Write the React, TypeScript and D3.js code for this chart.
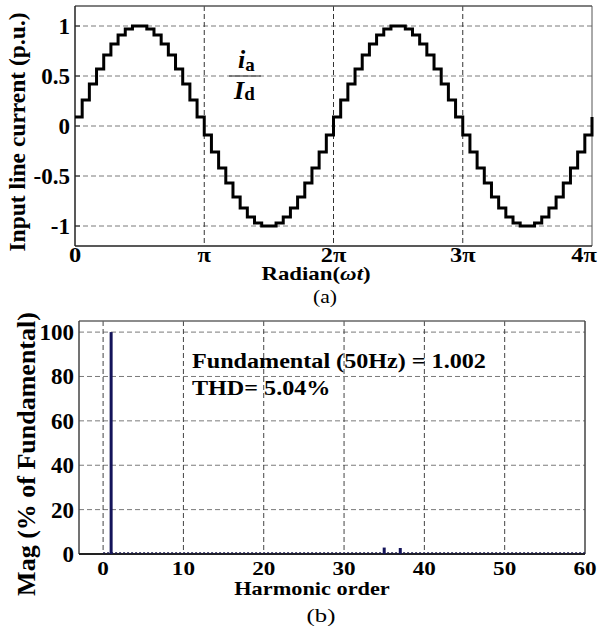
import React from "react";
import * as d3 from "d3";

// ---- Data ----
// Staircase input line current, 72 steps over 0..4π (10° per step)
const currentSteps: number[] = [
  0.09, 0.26, 0.42, 0.57, 0.71, 0.82, 0.91, 0.97, 1.0, 1.0, 0.97, 0.91, 0.82, 0.71, 0.57, 0.42, 0.26, 0.09,
  -0.09, -0.26, -0.42, -0.57, -0.71, -0.82, -0.91, -0.97, -1.0, -1.0, -0.97, -0.91, -0.82, -0.71, -0.57, -0.42, -0.26, -0.09,
  0.09, 0.26, 0.42, 0.57, 0.71, 0.82, 0.91, 0.97, 1.0, 1.0, 0.97, 0.91, 0.82, 0.71, 0.57, 0.42, 0.26, 0.09,
  -0.09, -0.26, -0.42, -0.57, -0.71, -0.82, -0.91, -0.97, -1.0, -1.0, -0.97, -0.91, -0.82, -0.71, -0.57, -0.42, -0.26, -0.09,
];
const endValue = 0.09;
const topYTicks = [1, 0.5, 0, -0.5, -1];
const topYTickLabels = ["1", "0.5", "0", "-0.5", "-1"];
const topXTicksPi = [0, 1, 2, 3, 4];
const topXTickLabels = ["0", "π", "2π", "3π", "4π"];

// Harmonic spectrum
const harmonicOrders = [1, 35, 37];
const harmonicMags = [100, 2.9, 2.7];
const bottomYTicks = [0, 20, 40, 60, 80, 100];
const bottomXTicks = [0, 10, 20, 30, 40, 50, 60];
const fundamentalText = "Fundamental (50Hz) = 1.002";
const thdText = "THD= 5.04%";

const FONT = "'Liberation Serif', 'Times New Roman', serif";

type TP = { x: number; y: number; sx?: number; size: number; bold?: boolean; anchor?: string; children: React.ReactNode };
function T({ x, y, sx = 1.22, size, bold = true, anchor = "start", children }: TP) {
  return (
    <text transform={`translate(${x},${y}) scale(${sx},1)`} fontSize={size} fontWeight={bold ? "bold" : "normal"} textAnchor={anchor}>
      {children}
    </text>
  );
}

export default function App() {
  const W = 598, H = 632;
  // top chart
  const xA = d3.scaleLinear().domain([0, 4 * Math.PI]).range([75, 592]);
  const yA = d3.scaleLinear().domain([-1.2, 1.2]).range([246, 6]);
  const stepW = (4 * Math.PI) / currentSteps.length;
  const pts: [number, number][] = currentSteps.map((v, i) => [i * stepW, v]);
  pts.push([4 * Math.PI, endValue]);
  const line = d3.line<[number, number]>().x(d => xA(d[0])).y(d => yA(d[1])).curve(d3.curveStepAfter);

  // bottom chart
  const xB = d3.scaleLinear().domain([-3, 60]).range([79, 585]);
  const yB = d3.scaleLinear().domain([0, 105]).range([554, 321]);

  const grid = "#7a7a7a";
  return (
    <svg width={W} height={H} style={{ position: "absolute", left: 0, top: 0, background: "#fff" }} fontFamily={FONT}>
      {/* ---------- Top chart ---------- */}
      {topYTicks.map(t => (
        <line key={"gy" + t} x1={xA(0)} x2={xA(4 * Math.PI)} y1={yA(t)} y2={yA(t)} stroke={grid} strokeWidth={1} strokeDasharray="5,3" />
      ))}
      {topXTicksPi.slice(1, 4).map(t => (
        <line key={"gx" + t} x1={xA(t * Math.PI)} x2={xA(t * Math.PI)} y1={yA(1.2)} y2={yA(-1.2)} stroke="#333" strokeWidth={1} strokeDasharray="5,3" />
      ))}
      <line x1={xA(0)} x2={xA(4 * Math.PI)} y1={yA(1.2)} y2={yA(1.2)} stroke="#555" strokeWidth={1.5} />
      <line x1={xA(4 * Math.PI)} x2={xA(4 * Math.PI)} y1={yA(1.2)} y2={yA(-1.2)} stroke="#555" strokeWidth={1} />
      <line x1={xA(0)} x2={xA(0)} y1={yA(1.2)} y2={yA(-1.2)} stroke="#222" strokeWidth={1.5} />
      <line x1={xA(0)} x2={xA(4 * Math.PI)} y1={yA(-1.2)} y2={yA(-1.2)} stroke="#222" strokeWidth={1.5} />
      {topYTicks.map(t => (
        <line key={"ty" + t} x1={xA(0)} x2={xA(0) + 5} y1={yA(t)} y2={yA(t)} stroke="#222" strokeWidth={1} />
      ))}
      <path d={line(pts) || ""} fill="none" stroke="#000" strokeWidth={3} strokeLinejoin="miter" />
      {topYTicks.map((t, i) => (
        <T key={"yl" + t} x={70} y={yA(t) + 8} sx={1} size={23} anchor="end">{topYTickLabels[i]}</T>
      ))}
      {topXTicksPi.map((t, i) => (
        <T key={"xl" + t} x={Math.min(xA(t * Math.PI), 584)} y={262} sx={1.22} size={20} anchor="middle">{topXTickLabels[i]}</T>
      ))}
      <T x={316} y={280} sx={1.27} size={18} anchor="middle">
        Radian(<tspan fontStyle="italic">ωt</tspan>)
      </T>
      <T x={325} y={303} sx={1.2} size={18} bold={false} anchor="middle">(a)</T>
      <text transform="translate(25,132) rotate(-90)" textAnchor="middle" fontSize={23.5} fontWeight="bold">Input line current (p.u.)</text>
      {/* i_a / I_d */}
      <text x={238} y={68} fontSize={26} fontWeight="bold" fontStyle="italic">i<tspan fontSize={19} fontStyle="normal" dy={3}>a</tspan></text>
      <line x1={229} x2={261} y1={76} y2={76} stroke="#444" strokeWidth={1.2} />
      <text x={234} y={99} fontSize={26} fontWeight="bold" fontStyle="italic">I<tspan fontSize={19} fontStyle="normal" dy={1}>d</tspan></text>

      {/* ---------- Bottom chart ---------- */}
      {bottomYTicks.slice(1).map(t => (
        <line key={"bgy" + t} x1={xB(-3)} x2={xB(60)} y1={yB(t)} y2={yB(t)} stroke={grid} strokeWidth={1} strokeDasharray="5,3" />
      ))}
      {bottomXTicks.slice(0, 6).map(t => (
        <line key={"bgx" + t} x1={xB(t)} x2={xB(t)} y1={yB(105)} y2={yB(0)} stroke="#444" strokeWidth={1} strokeDasharray="5,3" />
      ))}
      <line x1={xB(-3)} x2={xB(60)} y1={yB(105)} y2={yB(105)} stroke="#666" strokeWidth={1.5} />
      <line x1={xB(60)} x2={xB(60)} y1={yB(105)} y2={yB(0)} stroke="#444" strokeWidth={1.5} />
      <line x1={xB(-3)} x2={xB(-3)} y1={yB(105)} y2={yB(0)} stroke="#444" strokeWidth={1.5} />
      <line x1={xB(-3)} x2={xB(60)} y1={yB(0)} y2={yB(0)} stroke="#222" strokeWidth={2} />
      <line x1={xB(0)} x2={xB(60)} y1={yB(0) - 1} y2={yB(0) - 1} stroke="#1a1a4a" strokeWidth={1.5} strokeDasharray="2,2" />
      {harmonicOrders.map((h, i) => (
        <rect key={"bar" + h} x={xB(h) - 1.5} y={yB(harmonicMags[i])} width={3} height={yB(0) - yB(harmonicMags[i])} fill="#14145a" />
      ))}
      {bottomYTicks.map(t => (
        <T key={"byl" + t} x={74} y={yB(t) + 8} sx={1} size={23} anchor="end">{t}</T>
      ))}
      {bottomXTicks.map(t => (
        <T key={"bxl" + t} x={xB(t)} y={575} sx={1.22} size={19} anchor="middle">{t}</T>
      ))}
      <T x={312} y={595} sx={1.24} size={18} anchor="middle">Harmonic order</T>
      <T x={321} y={622} sx={1.3} size={19} bold={false} anchor="middle">(b)</T>
      <text transform="translate(35,454) rotate(-90)" textAnchor="middle" fontSize={26} fontWeight="bold">Mag (% of Fundamental)</text>
      <T x={192} y={368} sx={1.15} size={21}>{fundamentalText}</T>
      <T x={192} y={395} sx={1.15} size={21}>{thdText}</T>
    </svg>
  );
}
